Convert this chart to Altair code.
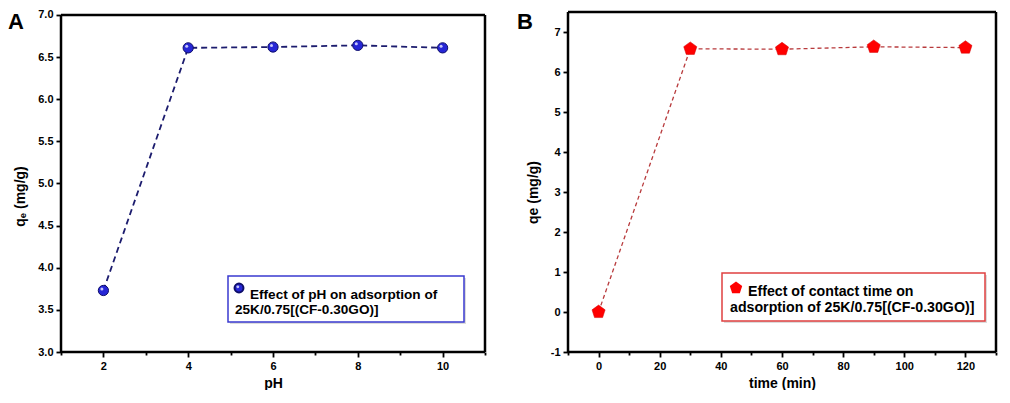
import altair as alt
import pandas as pd

# ---- data ----
ph = [2, 4, 6, 8, 10]
qe_ph = [3.73, 6.61, 6.62, 6.64, 6.61]

time_min = [0, 30, 60, 90, 120]
qe_time = [0.0, 6.58, 6.57, 6.63, 6.61]

ph_ticks = list(range(1, 12))
qa_ticks = [3.0 + 0.25 * i for i in range(17)]
t_ticks = list(range(-10, 131, 10))
qb_ticks = [-1.0 + 0.5 * i for i in range(18)]

legend_a = ["Effect of pH on adsorption of", "25K/0.75[(CF-0.30GO)]"]
legend_b = ["Effect of contact time on", "adsorption of 25K/0.75[(CF-0.30GO)]"]

df_a = pd.DataFrame({"pH": ph, "qe": qe_ph})
df_b = pd.DataFrame({"time": time_min, "qe": qe_time})
one = pd.DataFrame({"k": [0]})

AX_FONT = "Liberation Sans"
LEG_FONT = "Liberation Sans"
PENTAGON = "M0,-1L0.951,-0.309L0.588,0.809L-0.588,0.809L-0.951,-0.309Z"


def axis(title, values, major_test, label_expr=None, **kw):
    args = dict(
        title=title,
        values=values,
        labelExpr=f"({major_test}) ? {label_expr or 'datum.label'} : ''",
        tickSize={"condition": {"test": major_test, "value": 5}, "value": 3},
        tickColor="#000000",
        tickWidth=1.8,
        domain=False,
        labelColor="#000000",
        labelFont=AX_FONT,
        labelFontSize=11,
        labelFontWeight="bold",
        labelFlush=False,
        labelOverlap=False,
        titleFont=AX_FONT,
        titleFontSize=14,
        titleFontWeight="bold",
        titleColor="#000000",
        grid=False,
    )
    args.update(kw)
    return alt.Axis(**args)


def frame(y_top, y_bottom):
    r = alt.Chart(one).mark_rule(color="#000000", strokeWidth=2.5)
    return [
        r.encode(x=alt.value(0), x2=alt.value("width"), y=alt.datum(y_top)),
        r.encode(x=alt.value(0), x2=alt.value("width"), y=alt.datum(y_bottom)),
        r.encode(x=alt.value(0), y=alt.datum(y_bottom), y2=alt.datum(y_top)),
        r.encode(x=alt.value("width"), y=alt.datum(y_bottom), y2=alt.datum(y_top)),
    ]


HA, HB = 340, 340
WA, WB = 424, 428

# ---------------- Panel A ----------------
xa = alt.X("pH:Q", scale=alt.Scale(domain=[1, 11], nice=False),
           axis=axis("pH", ph_ticks, "datum.value % 2 === 0", labelPadding=3, titlePadding=5))
ya = alt.Y("qe:Q", scale=alt.Scale(domain=[3, 7.0356], nice=False),
           axis=axis("qₑ (mg/g)", qa_ticks,
                     "abs(datum.value * 2 - round(datum.value * 2)) < 0.001",
                     format=".1f", labelPadding=3, titlePadding=10, titleY=184))

base_a = alt.Chart(df_a).encode(x=xa, y=ya)
line_a = base_a.mark_line(color="#1c1c6e", strokeWidth=1.8, strokeDash=[6, 4])
pts_a = base_a.mark_point(filled=True, size=105, fill="#2626d6", stroke="#0e0e6a",
                          strokeWidth=1, opacity=1)
hi_a = base_a.mark_point(filled=True, size=9, color="#d8d8ff", opacity=0.9,
                         xOffset=-1.5, yOffset=-1.5)

box_shadow_a = alt.Chart(one).mark_rect(color="#c4c4c4", opacity=0.6).encode(
    x=alt.value(169), x2=alt.value(405), y=alt.value(266), y2=alt.value(312))
box_a = alt.Chart(one).mark_rect(fill="white", stroke="#3a3ad0", strokeWidth=1.5).encode(
    x=alt.value(167), x2=alt.value(403), y=alt.value(264), y2=alt.value(310))
sym_a = alt.Chart(one).mark_point(filled=True, size=80, fill="#2626d6", stroke="#0e0e6a",
                                  opacity=1).encode(x=alt.value(178), y=alt.value(276))
symh_a = alt.Chart(one).mark_point(filled=True, size=8, color="#d8d8ff", opacity=0.9).encode(
    x=alt.value(176.8), y=alt.value(274.8))
txt_a1 = alt.Chart(one).mark_text(text=legend_a[0], font=LEG_FONT, fontSize=13.6,
                                  fontWeight="bold", align="left", color="black").encode(
    x=alt.value(189), y=alt.value(283))
txt_a2 = alt.Chart(one).mark_text(text=legend_a[1], font=LEG_FONT, fontSize=13.6,
                                  fontWeight="bold", align="left", color="black").encode(
    x=alt.value(174), y=alt.value(298.3))
lab_a = alt.Chart(one).mark_text(text="A", font=AX_FONT, fontSize=22, fontWeight="bold",
                                 align="left", baseline="top", color="black").encode(
    x=alt.value(-53), y=alt.value(-0.5))

panel_a = alt.layer(line_a, pts_a, hi_a, *frame(7.0, 3.0), box_shadow_a, box_a, sym_a,
                    symh_a, txt_a1, txt_a2, lab_a).properties(width=WA, height=HA)

# ---------------- Panel B ----------------
xb = alt.X("time:Q", scale=alt.Scale(domain=[-10, 130], nice=False),
           axis=axis("time (min)", t_ticks, "datum.value % 20 === 0", labelPadding=3, titlePadding=5))
yb = alt.Y("qe:Q", scale=alt.Scale(domain=[-1, 7.5], nice=False),
           axis=axis("qe (mg/g)", qb_ticks,
                     "abs(datum.value - round(datum.value)) < 0.001",
                     label_expr="'' + datum.value",
                     labelPadding=3, titlePadding=10, titleY=180))

base_b = alt.Chart(df_b).encode(x=xb, y=yb)
line_b = base_b.mark_line(color="#b83a3c", strokeWidth=1.3, strokeDash=[4, 3])
pts_b = base_b.mark_point(filled=True, size=190, shape=PENTAGON, fill="#ff0000",
                          stroke="#d00000", strokeWidth=0.5, opacity=1)

box_shadow_b = alt.Chart(one).mark_rect(color="#c4c4c4", opacity=0.6).encode(
    x=alt.value(156), x2=alt.value(419), y=alt.value(263), y2=alt.value(311))
box_b = alt.Chart(one).mark_rect(fill="white", stroke="#e04040", strokeWidth=1.5).encode(
    x=alt.value(154), x2=alt.value(417), y=alt.value(261), y2=alt.value(309))
sym_b = alt.Chart(one).mark_point(filled=True, size=170, shape=PENTAGON, fill="#ff0000",
                                  opacity=1).encode(x=alt.value(168), y=alt.value(276))
txt_b1 = alt.Chart(one).mark_text(text=legend_b[0], font=LEG_FONT, fontSize=14.2,
                                  fontWeight="bold", align="left", color="black").encode(
    x=alt.value(180), y=alt.value(280))
txt_b2 = alt.Chart(one).mark_text(text=legend_b[1], font=LEG_FONT, fontSize=14.2,
                                  fontWeight="bold", align="left", color="black").encode(
    x=alt.value(162), y=alt.value(296))
lab_b = alt.Chart(one).mark_text(text="B", font=AX_FONT, fontSize=22, fontWeight="bold",
                                 align="left", baseline="top", color="black").encode(
    x=alt.value(-51), y=alt.value(-0.5))

panel_b = alt.layer(line_b, pts_b, *frame(7.5, -1.0), box_shadow_b, box_b, sym_b,
                    txt_b1, txt_b2, lab_b).properties(width=WB, height=HB)

chart = alt.concat(panel_a, panel_b, columns=2, spacing=30).properties(
    padding={"left": 0, "top": 0, "right": 0, "bottom": 0},
    background="white",
).configure_view(strokeWidth=0)

chart.save("out.html", embed_options={"renderer": "svg", "actions": False})
